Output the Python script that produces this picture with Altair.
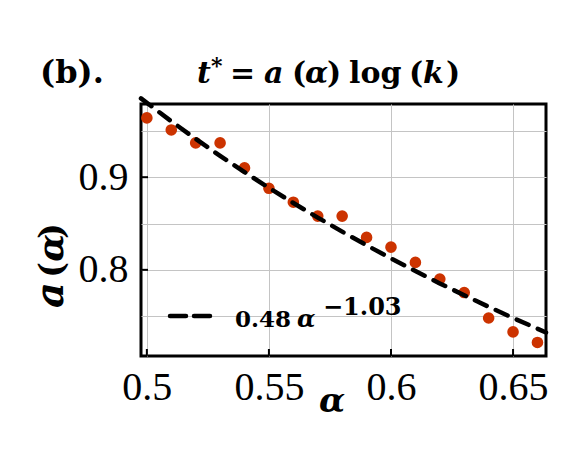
import altair as alt
import pandas as pd

# ---- data ----
alpha = [0.50, 0.51, 0.52, 0.53, 0.54, 0.55, 0.56, 0.57, 0.58,
         0.59, 0.60, 0.61, 0.62, 0.63, 0.64, 0.65, 0.66]
a_vals = [0.964, 0.951, 0.937, 0.937, 0.910, 0.888, 0.873, 0.858, 0.858,
          0.835, 0.8245, 0.808, 0.790, 0.7755, 0.748, 0.733, 0.7216]
fit_coef = 0.48
fit_exp = -1.03
alpha_fit = [0.4976, 0.51, 0.52, 0.53, 0.54, 0.55, 0.56, 0.57, 0.58, 0.59,
             0.60, 0.61, 0.62, 0.63, 0.64, 0.65, 0.6635]
x_ticks = [0.5, 0.55, 0.6, 0.65]
y_grid = [0.75, 0.8, 0.85, 0.9, 0.95]
y_labels = [0.8, 0.9]
x_domain = [0.4976, 0.6635]
y_domain = [0.707, 0.979]

FONT = "DejaVu Serif"
TICKFONT = "Liberation Serif"
W, H = 405, 252

xs = alt.Scale(domain=x_domain, nice=False, zero=False)
ys = alt.Scale(domain=y_domain, nice=False, zero=False)

x_axis = alt.Axis(
    values=x_ticks, format=".2~f", title=None, ticks=False, domain=False,
    grid=True, gridColor="#c4c4c4", gridWidth=1,
    labelFont=TICKFONT, labelFontSize=40, labelPadding=11, labelColor="black")
y_axis = alt.Axis(
    values=y_grid, title=None, ticks=False, domain=False,
    grid=True, gridColor="#c4c4c4", gridWidth=1,
    labelExpr="(abs(datum.value-0.8)<1e-6 || abs(datum.value-0.9)<1e-6) ? format(datum.value, '.1f') : ''",
    labelFont=TICKFONT, labelFontSize=40, labelPadding=13, labelColor="black")

pts_df = pd.DataFrame({"alpha": alpha, "a": a_vals})
fit_df = pd.DataFrame({"alpha": alpha_fit})

points = alt.Chart(pts_df).mark_circle(size=135, color="#cc3300", opacity=1).encode(
    x=alt.X("alpha:Q", scale=xs, axis=x_axis),
    y=alt.Y("a:Q", scale=ys, axis=y_axis),
)

fit = alt.Chart(fit_df).transform_calculate(
    a=f"{fit_coef}*pow(datum.alpha,{fit_exp})"
).mark_line(color="black", strokeWidth=4.5, strokeDash=[13, 10], strokeCap="round", clip=False).encode(
    x=alt.X("alpha:Q", scale=xs, axis=x_axis),
    y=alt.Y("a:Q", scale=ys, axis=y_axis),
)

xt = alt.Chart(pd.DataFrame({"alpha": x_ticks})).mark_rule(color="black", strokeWidth=2).encode(
    x=alt.X("alpha:Q", scale=xs, axis=x_axis), y=alt.value(H), y2=alt.value(H - 7))
yt = alt.Chart(pd.DataFrame({"a": y_labels})).mark_rule(color="black", strokeWidth=2).encode(
    y=alt.Y("a:Q", scale=ys, axis=y_axis), x=alt.value(0), x2=alt.value(7))


def txt(s, x, y, size, bold=True, italic=False, angle=0, align="left", baseline="alphabetic"):
    kw = dict(font=FONT, fontSize=size, fontWeight="bold" if bold else "normal",
              fontStyle="italic" if italic else "normal", align=align,
              baseline=baseline, color="black")
    if angle:
        kw["angle"] = angle
    return alt.Chart(pd.DataFrame({"s": [s]})).mark_text(**kw).encode(
        text="s:N", x=alt.value(x), y=alt.value(y))


OX, OY = 141, 104  # plot origin on the page
texts = [
    # panel tag
    txt("(b).", 40 - OX, 83 - OY, 32),
    # title t* = a(α) log(k)
    txt("t", 197 - OX, 83 - OY, 30, italic=True),
    txt("*", 211 - OX, 73 - OY, 22),
    txt("=", 230 - OX, 83 - OY, 30),
    txt("a", 264 - OX, 83 - OY, 30, italic=True),
    txt("(", 292 - OX, 83 - OY, 30),
    txt("α", 305 - OX, 83 - OY, 30, italic=True),
    txt(")", 327 - OX, 83 - OY, 30),
    txt("log", 349 - OX, 83 - OY, 30),
    txt("(", 409 - OX, 83 - OY, 30),
    txt("k", 423 - OX, 83 - OY, 30, italic=True),
    txt(")", 446 - OX, 83 - OY, 30),
    # x title
    txt("α", 332 - OX, 412 - OY, 34, italic=True, align="center"),
    # y title a (α), rotated
    txt("a", 63 - OX, 295 - OY, 40, italic=True, angle=270, align="center"),
    txt("(", 63 - OX, 270 - OY, 34, angle=270, align="center"),
    txt("α", 63 - OX, 248 - OY, 36, italic=True, angle=270, align="center"),
    txt(")", 63 - OX, 231 - OY, 34, angle=270, align="center"),
    # legend text
    txt("0.48", 235 - OX, 327 - OY, 23),
    txt("α", 297 - OX, 327 - OY, 24, italic=True),
    txt("\u22121.03", 323 - OX, 315 - OY, 24),
]

leg_line = alt.Chart(pd.DataFrame({"s": ["fit"]})).mark_rule(
    color="black", strokeWidth=4.5, strokeDash=[16, 8], strokeCap="round").encode(
    x=alt.value(170 - OX), x2=alt.value(214 - OX), y=alt.value(316 - OY))

chart = alt.layer(points, fit, xt, yt, leg_line, *texts).properties(
    width=W, height=H,
    background="white",
    autosize=alt.AutoSizeParams(type="none"),
    padding={"left": 133, "top": 96, "right": 27, "bottom": 98},
).configure_view(stroke="black", strokeWidth=3)

chart.save("out.html", embed_options={"renderer": "svg", "actions": False})
